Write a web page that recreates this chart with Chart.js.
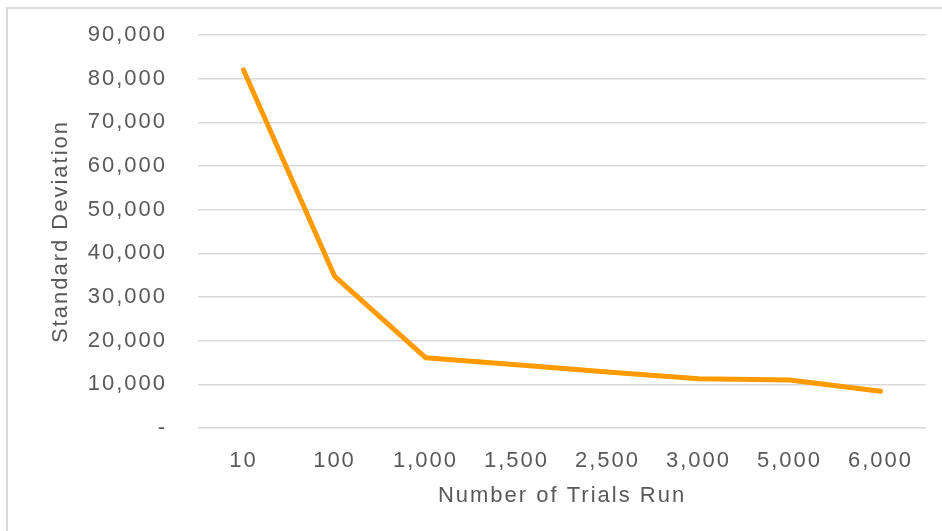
<!DOCTYPE html>
<html>
<head>
    <meta charset="UTF-8">
    <script src="https://cdn.jsdelivr.net/npm/chart.js"></script>
    <style>
        body { margin: 0; background: #fff; }
        #wrap { position: relative; width: 942px; height: 531px; }
        #frame {
            position: absolute; left: 6px; top: 7px; right: 0; bottom: 0;
            border-left: 2px solid #d9d9d9; border-top: 2px solid #d9d9d9;
        }
        #myChart { position: absolute; left: 0; top: 0; }
    </style>
</head>
<body>
    <div id="wrap">
        <div id="frame"></div>
        <canvas id="myChart" width="942" height="531"></canvas>
    </div>

    <script>
        const trials = ['10', '100', '1,000', '1,500', '2,500', '3,000', '5,000', '6,000'];
        const stdDev = [82000, 34800, 16100, 14500, 12800, 11300, 11000, 8400];
        const yTicks = [0, 10000, 20000, 30000, 40000, 50000, 60000, 70000, 80000, 90000];

        const textColor = '#595959';
        const font = { family: 'Liberation Sans, Arial, sans-serif', size: 22 };

        // the reference text is drawn wider than normal, so spread the letters a bit
        const wideText = {
            id: 'wideText',
            beforeLayout: chart => { chart.ctx.letterSpacing = '2px'; },
            beforeDraw: chart => { chart.ctx.letterSpacing = '2px'; }
        };

        const ctx = document.getElementById('myChart').getContext('2d');
        new Chart(ctx, {
            type: 'line',
            data: {
                labels: trials,
                datasets: [{
                    label: 'Standard Deviation',
                    data: stdDev,
                    borderColor: '#ff9a00',
                    borderWidth: 5,
                    borderJoinStyle: 'round',
                    borderCapStyle: 'round',
                    pointRadius: 0,
                    tension: 0,
                    fill: false
                }]
            },
            plugins: [wideText],
            options: {
                responsive: false,
                animation: false,
                layout: { padding: { top: 35, right: 16, left: 0, bottom: 0 } },
                plugins: {
                    legend: { display: false },
                    tooltip: { enabled: false }
                },
                scales: {
                    x: {
                        offset: true,
                        grid: { display: false, drawTicks: false },
                        border: { display: false },
                        ticks: { color: textColor, font: font, padding: 20, maxRotation: 0, autoSkip: false },
                        title: {
                            display: true, text: 'Number of Trials Run',
                            color: textColor, font: font, padding: { top: 0, bottom: 22 }
                        },
                        afterFit: scale => { scale.height = 103; }
                    },
                    y: {
                        min: 0,
                        max: 90000,
                        afterBuildTicks: scale => { scale.ticks = yTicks.map(v => ({ value: v })); },
                        grid: { color: '#d9d9d9', lineWidth: 1.5, drawTicks: false },
                        border: { display: false },
                        ticks: {
                            color: textColor, font: font, padding: 31,
                            callback: v => v === 0 ? '-' : v.toLocaleString('en-US')
                        },
                        title: {
                            display: true, text: 'Standard Deviation',
                            color: textColor, font: font, padding: { top: 48, bottom: 0 }
                        },
                        afterFit: scale => {
                            scale.width = 198;
                            scale.paddingTop = 0;
                            scale.paddingBottom = 0;
                        }
                    }
                }
            }
        });
    </script>
</body>
</html>
